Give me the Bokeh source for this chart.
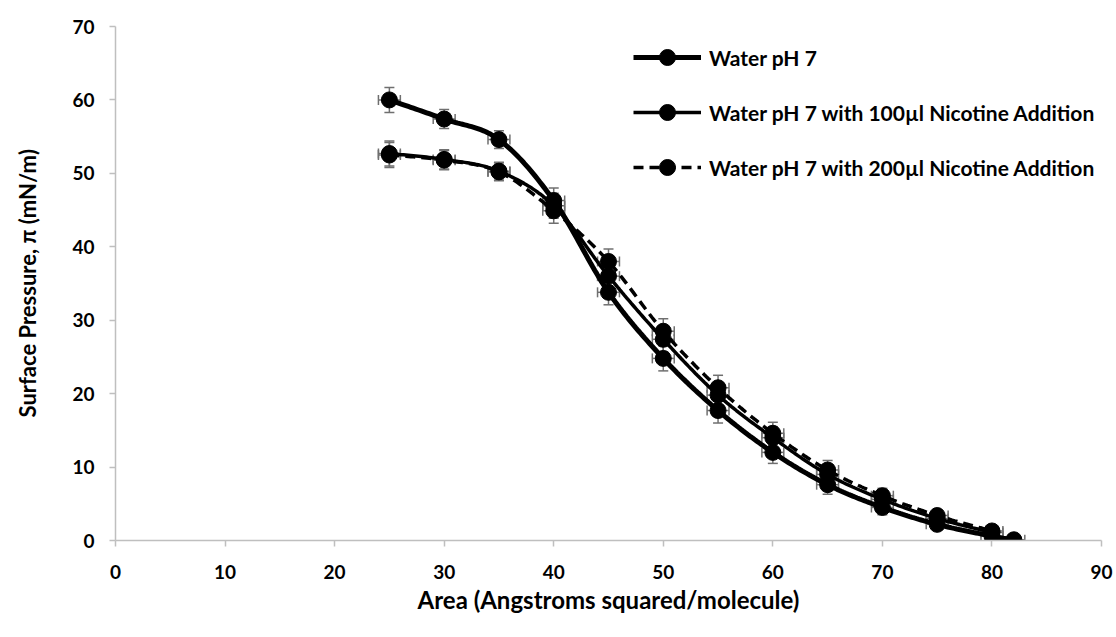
from bokeh.plotting import figure
from bokeh.models import (Range1d, Whisker, ColumnDataSource, Legend, LegendItem,
                          TeeHead, FixedTicker)
from bokeh.embed import file_html
from bokeh.resources import INLINE

# ---- data ----
area = [25, 30, 35, 40, 45, 50, 55, 60, 65, 70, 75, 80, 82]
water = [60.0, 57.4, 54.6, 46.3, 33.8, 24.8, 17.7, 12.0, 7.6, 4.5, 2.2, 0.6, 0.1]
area_nic = [25, 30, 35, 40, 45, 50, 55, 60, 65, 70, 75, 80]
nic100 = [52.7, 51.9, 50.3, 45.6, 36.0, 27.4, 19.8, 14.0, 9.0, 5.6, 3.0, 1.1]
nic200 = [52.5, 51.8, 50.2, 44.9, 38.0, 28.5, 20.8, 14.6, 9.6, 6.1, 3.4, 1.3]
x_err = 1.0
y_err = [1.7, 1.3, 1.2, 1.7, 1.7, 1.7, 1.7, 1.5, 1.3, 1.0, 0.8, 0.6, 0.4]
labels = ["Water pH 7",
          "Water pH 7 with 100\u00b5l Nicotine Addition",
          "Water pH 7 with 200\u00b5l Nicotine Addition"]
x_ticks = list(range(0, 91, 10))
y_ticks = list(range(0, 71, 10))

FONT = "Lato"


def smooth(xs, ys, n=24):
    """Catmull-Rom path through the data points (Excel 'smoothed line' look)."""
    px = [xs[0]] + list(xs) + [xs[-1]]
    py = [ys[0]] + list(ys) + [ys[-1]]
    ox, oy = [], []
    for i in range(1, len(px) - 2):
        for k in range(n):
            t = k / n
            t2, t3 = t * t, t * t * t
            for src, out in ((px, ox), (py, oy)):
                p0, p1, p2, p3 = src[i - 1], src[i], src[i + 1], src[i + 2]
                out.append(0.5 * (2 * p1 + (-p0 + p2) * t +
                                  (2 * p0 - 5 * p1 + 4 * p2 - p3) * t2 +
                                  (-p0 + 3 * p1 - 3 * p2 + p3) * t3))
    ox.append(xs[-1])
    oy.append(ys[-1])
    return ox, oy


p = figure(width=1116, height=637, x_range=Range1d(0, 90), y_range=Range1d(0, 70),
           output_backend="svg", toolbar_location=None,
           min_border_left=115, min_border_right=15, min_border_top=26,
           min_border_bottom=97)
p.xgrid.visible = False
p.ygrid.visible = False
p.outline_line_color = None
p.background_fill_color = "white"

for ax in (p.xaxis[0], p.yaxis[0]):
    ax.axis_line_color = "#bfbfbf"
    ax.axis_line_width = 1.5
    ax.major_tick_line_color = "#bfbfbf"
    ax.major_tick_line_width = 1.5
    ax.major_tick_out = 6
    ax.major_tick_in = 0
    ax.minor_tick_line_color = None
    ax.major_label_text_font = FONT
    ax.major_label_text_font_style = "bold"
    ax.major_label_text_font_size = "19px"
    ax.major_label_text_color = "black"
    ax.axis_label_text_font = FONT
    ax.axis_label_text_font_style = "bold"
    ax.axis_label_text_color = "black"

p.xaxis.ticker = FixedTicker(ticks=x_ticks)
p.yaxis.ticker = FixedTicker(ticks=y_ticks)
p.xaxis.axis_label = "Area (Angstroms squared/molecule)"
p.yaxis.axis_label = "Surface Pressure, \u03c0 (mN/m)"
p.xaxis.axis_label_text_font_size = "24px"
p.yaxis.axis_label_text_font_size = "22px"
p.xaxis.major_label_standoff = 18
p.xaxis.axis_label_standoff = 3
p.yaxis.major_label_standoff = 15
p.yaxis.axis_label_standoff = 28

series = [
    (area, water, y_err, dict(line_width=5, line_dash="solid")),
    (area_nic, nic100, y_err[:len(area_nic)], dict(line_width=3.5, line_dash="solid")),
    (area_nic, nic200, y_err[:len(area_nic)], dict(line_width=3.5, line_dash="10 6")),
]

items = []
for (xs, ys, ye, style), lab in zip(series, labels):
    sx, sy = smooth(xs, ys)
    lr = p.line(sx, sy, line_color="black", **style)
    src = ColumnDataSource(dict(
        x=xs, y=ys,
        ylo=[v - e for v, e in zip(ys, ye)], yhi=[v + e for v, e in zip(ys, ye)],
        xlo=[v - x_err for v in xs], xhi=[v + x_err for v in xs]))
    for w in (
        Whisker(source=src, base="x", lower="ylo", upper="yhi", dimension="height",
                line_color="#6f6f6f", line_width=1.5,
                upper_head=TeeHead(size=10, line_color="#6f6f6f", line_width=1.5),
                lower_head=TeeHead(size=10, line_color="#6f6f6f", line_width=1.5)),
        Whisker(source=src, base="y", lower="xlo", upper="xhi", dimension="width",
                line_color="#6f6f6f", line_width=1.5,
                upper_head=TeeHead(size=10, line_color="#6f6f6f", line_width=1.5),
                lower_head=TeeHead(size=10, line_color="#6f6f6f", line_width=1.5)),
    ):
        p.add_layout(w)
    sr = p.scatter("x", "y", source=src, size=16, marker="circle",
                   fill_color="black", line_color="black")
    items.append(LegendItem(label=lab, renderers=[lr, sr]))

legend = Legend(items=items, location=(518, 353))
legend.border_line_color = None
legend.background_fill_alpha = 0
legend.label_text_font = FONT
legend.label_text_font_style = "bold"
legend.label_text_font_size = "21px"
legend.label_text_color = "black"
legend.glyph_width = 68
legend.glyph_height = 40
legend.label_height = 40
legend.spacing = 15
legend.label_standoff = 8
legend.padding = 0
legend.margin = 0
p.add_layout(legend)

open("out.html", "w").write(file_html(p, INLINE))
